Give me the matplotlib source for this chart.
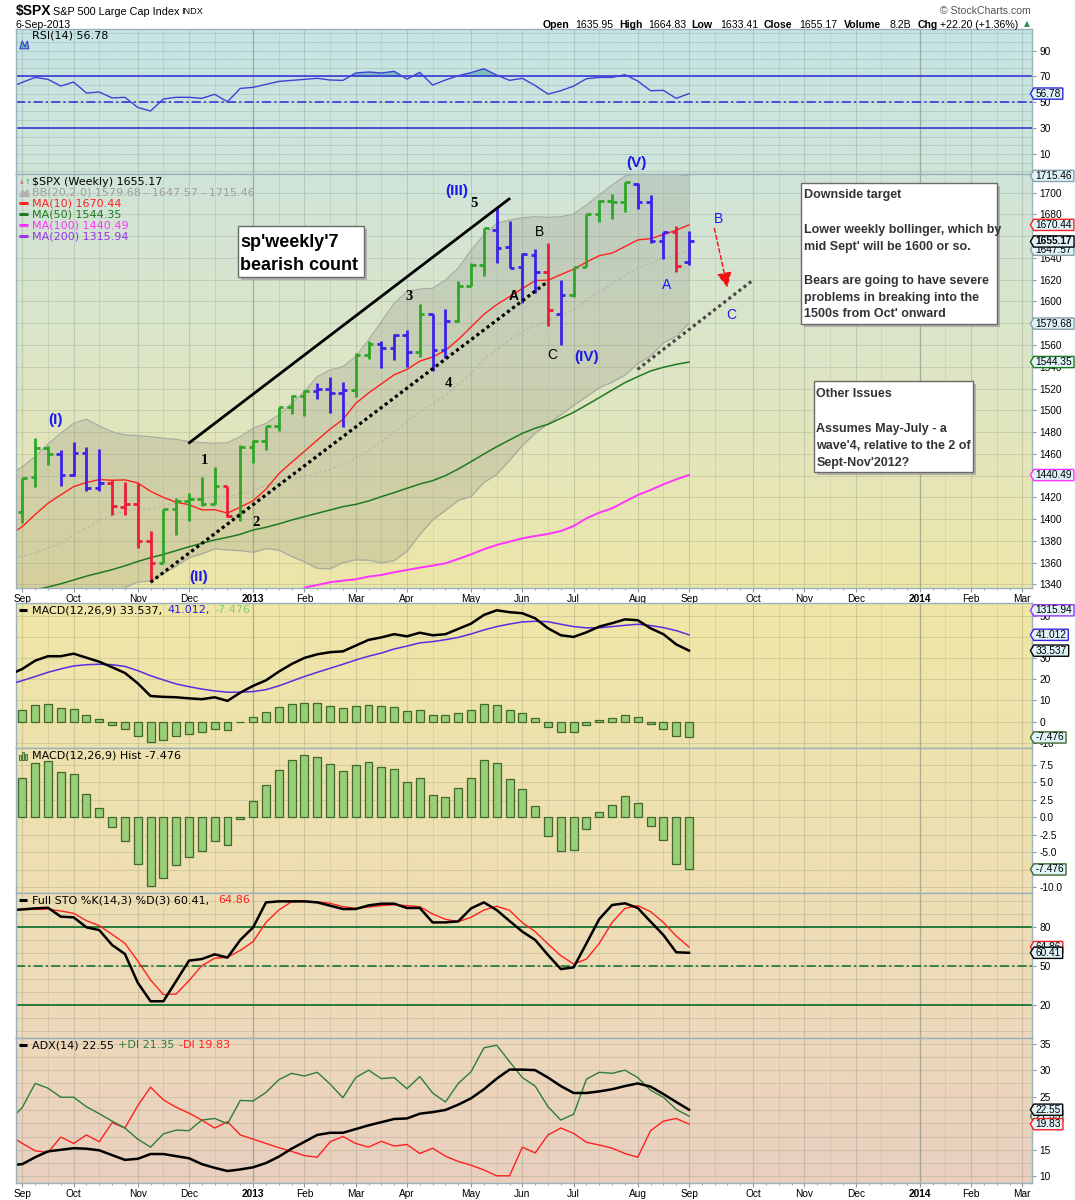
import numpy as np
import pandas as pd
import matplotlib
matplotlib.use("Agg")
import matplotlib.pyplot as plt
from matplotlib.patches import Rectangle, Polygon
from matplotlib.lines import Line2D
from matplotlib.path import Path
from matplotlib.transforms import blended_transform_factory

W, H = 1075, 1200
SANS = ["Liberation Sans", "DejaVu Sans"]
plt.rcParams["font.family"] = SANS

# ---------------------------------------------------------------- data
first_week = "2012-09-03"   # Monday of the first weekly bar
axis_end = "2014-03-03"

opens = [1406.54, 1438.44, 1465.42, 1459.76, 1440.90, 1460.93, 1428.75, 1433.21, 1410.99, 1414.02,
         1380.13, 1359.88, 1409.15, 1416.34, 1418.07, 1413.54, 1430.15, 1402.43, 1466.47, 1472.12,
         1485.98, 1502.96, 1513.17, 1517.93, 1519.79, 1515.60, 1518.20, 1551.18, 1560.70, 1556.89,
         1569.18, 1553.26, 1588.85, 1555.25, 1582.34, 1614.40, 1633.70, 1665.71, 1650.34, 1631.71,
         1642.80, 1626.97, 1588.77, 1606.28, 1631.89, 1680.26, 1692.09, 1691.65, 1708.01, 1691.70,
         1655.25, 1663.50, 1635.95]
highs = [1437.92, 1474.51, 1467.07, 1463.24, 1470.96, 1465.99, 1464.02, 1435.46, 1434.27, 1433.38,
         1388.81, 1409.16, 1419.70, 1423.73, 1438.59, 1448.00, 1430.15, 1467.94, 1472.75, 1485.98,
         1503.26, 1514.41, 1518.31, 1524.69, 1530.94, 1525.84, 1552.48, 1563.62, 1563.62, 1570.28,
         1573.66, 1597.35, 1588.85, 1592.64, 1618.46, 1635.01, 1667.47, 1687.18, 1674.21, 1644.40,
         1648.69, 1654.19, 1620.07, 1632.07, 1680.19, 1693.12, 1698.43, 1709.67, 1709.24, 1697.92,
         1664.03, 1669.51, 1664.83]
lows = [1396.56, 1429.13, 1449.98, 1430.53, 1439.40, 1425.53, 1425.61, 1403.28, 1403.93, 1373.03,
        1343.35, 1359.88, 1385.43, 1398.11, 1411.88, 1413.54, 1401.58, 1398.11, 1451.64, 1463.76,
        1481.16, 1496.33, 1495.02, 1510.00, 1497.29, 1485.01, 1512.29, 1547.36, 1538.57, 1546.22,
        1539.50, 1548.63, 1536.03, 1548.19, 1581.28, 1614.40, 1623.70, 1635.53, 1630.74, 1598.23,
        1608.07, 1577.70, 1560.33, 1604.57, 1631.89, 1673.30, 1676.03, 1681.86, 1684.91, 1654.19,
        1639.43, 1627.47, 1633.41]
closes = [1437.92, 1465.77, 1460.15, 1440.67, 1460.93, 1428.59, 1433.19, 1411.94, 1414.20, 1379.85,
          1359.88, 1409.15, 1416.18, 1418.07, 1413.58, 1430.15, 1402.43, 1466.47, 1472.05, 1485.98,
          1502.96, 1513.17, 1517.93, 1519.79, 1515.60, 1518.20, 1551.18, 1560.70, 1556.89, 1569.19,
          1553.28, 1588.85, 1555.25, 1582.24, 1614.42, 1633.70, 1667.47, 1649.60, 1630.74, 1643.38,
          1626.73, 1592.43, 1606.28, 1631.89, 1680.19, 1692.09, 1691.65, 1709.67, 1691.42, 1655.83,
          1663.50, 1632.97, 1655.17]
# impulse of each bar: u = up, d = down, n = neutral
impulse = ("uuunnnn" "dddd" "uuuuu" "d" "uuuuuu" "nnn" "uu" "nnn" "u" "nn" "uuu"
           "nnnn" "d" "n" "uuuuu" "nnn" "d" "n")

# indicator lines: the first value is the week before the first bar
ma10 = [1385.5, 1393.1, 1404.2, 1414.5, 1422.3, 1429.8, 1433.6, 1436.3, 1435.7, 1436.0, 1433.3,
        1425.5, 1419.9, 1415.5, 1413.2, 1408.5, 1408.6, 1405.5, 1411.0, 1416.8, 1427.4,
        1441.7, 1452.1, 1462.3, 1472.5, 1482.7, 1491.5, 1506.3, 1515.8, 1524.2, 1532.6,
        1537.6, 1545.2, 1548.9, 1555.1, 1565.0, 1576.6, 1588.2, 1597.1, 1604.5, 1611.9,
        1619.2, 1619.6, 1624.7, 1629.7, 1636.2, 1642.1, 1644.5, 1650.5, 1656.6, 1657.8,
        1661.5, 1665.5, 1670.44]
ma50 = [1330.0, 1332.5, 1335.0, 1337.5, 1340.5, 1344.0, 1347.5, 1350.5, 1353.5, 1357.0, 1361.0,
        1364.5, 1367.5, 1371.0, 1374.5, 1377.7, 1380.8, 1383.2, 1386.0, 1390.0, 1392.4,
        1395.5, 1399.1, 1402.2, 1405.3, 1408.3, 1411.4, 1413.5, 1416.6, 1420.6, 1424.3,
        1428.3, 1432.2, 1435.3, 1439.9, 1446.0, 1452.8, 1459.8, 1466.5, 1472.7, 1478.8,
        1483.5, 1487.1, 1492.6, 1498.1, 1504.8, 1511.6, 1518.6, 1525.4, 1530.9, 1536.1,
        1539.5, 1542.2, 1544.35]
ma100 = [np.nan] * 23 + [1337.0, 1339.4, 1341.9, 1343.4, 1344.6, 1347.1, 1348.6, 1351.1,
                         1353.2, 1355.3, 1357.2, 1359.3, 1363.3, 1367.6, 1372.2, 1376.2,
                         1379.2, 1382.3, 1384.4, 1386.3, 1389.0, 1393.6, 1400.7, 1405.9,
                         1409.9, 1416.0, 1422.1, 1426.7, 1431.9, 1436.5, 1440.49]
bb_upper = [1440.0, 1448.2, 1457.4, 1469.0, 1478.8, 1488.0, 1491.7, 1485.5, 1480.3, 1477.3, 1476.7,
            1475.7, 1474.2, 1473.3, 1471.2, 1470.2, 1469.6, 1470.2, 1475.7, 1483.4, 1488.0,
            1495.7, 1506.4, 1517.1, 1530.9, 1537.0, 1540.1, 1549.3, 1564.6, 1581.4, 1598.3,
            1609.0, 1611.5, 1612.1, 1619.7, 1630.5, 1647.3, 1661.1, 1671.8, 1674.9, 1677.0,
            1677.9, 1677.3, 1677.9, 1680.4, 1688.7, 1697.9, 1707.0, 1715.3, 1718.0, 1720.0,
            1719.0, 1717.0, 1715.46]
bb_mid = [1362.7, 1365.7, 1368.8, 1373.3, 1377.7, 1386.0, 1391.5, 1399.3, 1403.6, 1407.2, 1409.4,
          1409.3, 1412.0, 1415.0, 1417.8, 1419.1, 1421.1, 1420.9, 1423.3, 1426.4, 1430.4,
          1433.6, 1436.0, 1438.9, 1442.8, 1445.6, 1450.0, 1455.9, 1463.4, 1470.5, 1480.0,
          1489.7, 1498.6, 1505.6, 1513.8, 1523.8, 1534.0, 1547.3, 1556.4, 1564.4, 1572.2,
          1578.4, 1582.4, 1586.8, 1592.4, 1600.6, 1609.3, 1616.4, 1623.8, 1630.5, 1634.9,
          1640.4, 1642.6, 1647.57]
bb_lower = [1285.4, 1283.2, 1280.2, 1277.6, 1276.6, 1284.0, 1291.3, 1313.1, 1326.9, 1337.1, 1342.1,
            1342.9, 1349.8, 1356.7, 1364.4, 1368.0, 1372.6, 1371.6, 1370.9, 1369.4, 1372.8,
            1371.5, 1365.6, 1360.7, 1354.7, 1354.2, 1359.9, 1362.5, 1362.2, 1359.6, 1361.7,
            1370.4, 1385.7, 1399.1, 1407.9, 1417.1, 1420.7, 1433.5, 1441.0, 1453.9, 1467.4,
            1478.9, 1487.5, 1495.7, 1504.4, 1512.5, 1520.7, 1525.8, 1532.3, 1543.0, 1549.8,
            1561.8, 1568.2, 1579.68]
rsi = [61.5, 65.5, 69.3, 67.8, 62.6, 65.7, 57.2, 58.0, 53.4, 53.9, 46.1,
       43.3, 52.6, 53.9, 53.9, 53.1, 56.2, 50.5, 60.8, 61.6, 63.9,
       66.2, 67.0, 67.8, 68.6, 67.3, 67.0, 72.7, 73.5, 72.7, 74.0,
       68.0, 73.2, 63.4, 67.3, 70.6, 73.0, 76.0, 71.1, 67.0, 68.6,
       63.0, 56.4, 59.0, 62.6, 68.3, 69.3, 69.3, 71.4, 66.5, 59.0,
       59.3, 53.1, 56.78]
macd = [22.2, 24.9, 28.8, 30.9, 30.9, 32.1, 30.2, 28.3, 25.7, 23.0, 18.1,
        12.1, 11.7, 11.5, 11.0, 10.6, 11.5, 9.8, 13.7, 16.9, 19.5,
        23.6, 27.2, 30.1, 31.8, 32.8, 33.2, 35.9, 38.6, 39.8, 41.3,
        40.3, 42.0, 40.8, 41.3, 43.8, 46.3, 50.4, 52.6, 51.7, 51.2,
        48.8, 44.1, 40.8, 40.0, 42.2, 44.9, 46.5, 48.3, 47.9, 44.1,
        41.3, 36.5, 33.537]
macd_signal = [17.6, 19.4, 21.3, 23.3, 24.9, 26.3, 26.9, 27.1, 26.9, 26.1, 24.1,
               21.7, 19.7, 17.8, 16.5, 15.4, 14.5, 13.9, 13.9, 14.2, 15.1,
               16.9, 19.1, 21.3, 23.3, 25.2, 27.1, 29.1, 30.9, 32.4, 34.3,
               35.7, 37.2, 37.8, 38.7, 39.8, 41.4, 43.3, 44.9, 46.1, 47.1,
               47.4, 47.2, 46.0, 44.9, 44.3, 44.3, 44.9, 45.5, 46.0, 45.4,
               44.4, 43.0, 41.012]
sto_k = [93.1, 93.8, 94.6, 95.1, 88.2, 87.7, 80.0, 77.9, 66.4, 59.5, 37.4,
         23.1, 23.1, 38.7, 54.4, 55.6, 59.2, 56.7, 70.3, 80.0, 99.2,
         100.0, 100.0, 100.0, 99.2, 96.7, 94.1, 94.1, 96.9, 98.2, 98.2,
         94.9, 94.9, 83.8, 83.8, 84.6, 94.6, 99.2, 93.3, 84.9, 76.7,
         70.3, 58.7, 47.9, 49.2, 67.7, 86.4, 97.2, 98.5, 94.9, 84.4,
         74.1, 60.8, 60.41]
sto_d = [93.6, 93.8, 93.8, 94.1, 92.6, 90.8, 85.1, 81.3, 74.6, 67.7, 54.1,
         39.5, 28.2, 28.7, 39.0, 50.5, 56.2, 56.9, 62.3, 69.0, 83.8,
         93.3, 99.7, 100.0, 99.7, 98.5, 95.9, 94.6, 95.6, 96.7, 97.4,
         96.7, 95.9, 90.3, 86.2, 84.4, 87.7, 93.3, 96.2, 93.1, 83.6,
         76.7, 67.2, 58.2, 51.8, 55.6, 67.7, 83.8, 94.6, 96.7, 92.1,
         83.8, 73.3, 64.86]
adx = [12.1, 12.3, 13.6, 14.7, 15.0, 15.3, 15.2, 14.9, 14.0, 13.1, 13.3,
       14.2, 14.2, 13.8, 13.4, 12.3, 11.6, 11.0, 11.3, 11.7, 12.5,
       13.7, 15.2, 16.5, 17.8, 18.2, 18.2, 18.9, 19.6, 20.2, 20.8,
       20.9, 21.8, 22.1, 22.5, 23.5, 24.7, 26.4, 28.4, 30.1, 30.1,
       30.0, 28.6, 27.0, 25.7, 25.7, 26.0, 26.4, 27.0, 27.5, 26.9,
       25.5, 24.0, 22.55]
plus_di = [20.5, 23.0, 27.5, 26.6, 24.9, 24.9, 23.1, 21.8, 20.4, 19.1, 17.0,
           15.5, 18.0, 18.7, 18.6, 20.6, 20.9, 19.9, 24.3, 24.2, 25.8,
           28.2, 29.4, 28.9, 29.6, 27.4, 24.8, 28.6, 30.0, 28.4, 28.6,
           26.5, 28.8, 25.7, 24.0, 27.5, 29.7, 34.2, 34.7, 31.6, 28.6,
           27.0, 23.1, 20.6, 21.7, 28.3, 29.6, 29.4, 30.0, 28.6, 26.2,
           24.9, 22.6, 21.35]
minus_di = [17.7, 16.2, 14.8, 14.5, 17.4, 16.2, 17.8, 16.5, 20.1, 19.1, 23.3,
            26.8, 24.4, 23.0, 21.9, 20.6, 19.1, 20.3, 17.8, 17.0, 16.2,
            15.4, 14.7, 13.9, 13.6, 16.5, 17.5, 16.2, 15.5, 16.6, 15.7,
            16.0, 14.3, 15.3, 13.8, 12.8, 12.1, 11.2, 10.1, 10.1, 15.5,
            14.4, 17.8, 19.1, 18.1, 16.4, 15.9, 15.3, 14.3, 13.6, 18.6,
            20.4, 20.9, 19.83]
# histogram, one value per bar
macd_hist = [5.7, 7.75, 8.1, 6.5, 6.2, 3.3, 1.4, -1.4, -3.35, -6.75,
             -9.85, -8.65, -6.9, -5.65, -4.9, -3.35, -4.0, -0.3, 2.3, 4.6,
             6.75, 8.2, 8.9, 8.7, 7.6, 6.6, 7.45, 7.9, 7.2, 6.9,
             5.0, 5.6, 3.2, 2.9, 4.2, 5.7, 8.2, 7.75, 5.45, 4.0,
             1.6, -2.7, -4.9, -4.75, -1.7, 0.7, 1.7, 3.0, 2.0, -1.3,
             -3.3, -6.75, -7.476]
ma200_last = 1315.94

# hand drawn count on the price panel (week index, price)
trend_up = ([13.03, 37.96], [1470.2, 1694.2])
trend_low = ([10.0, 40.97], [1341.9, 1618.2])
trend_next = ([47.98, 56.99], [1537.6, 1619.7])
arrow_from, arrow_to = (53.98, 1667.2), (54.99, 1613.0)
wave_blue = [("(I)", 2.55, 1491.1), ("(II)", 13.78, 1346.4), ("(III)", 33.9, 1701.5),
             ("(IV)", 43.98, 1549.2), ("(V)", 47.9, 1727.0)]
wave_black = [("1", 14.2, 1453.4), ("2", 18.2, 1396.7), ("3", 30.2, 1605.0),
              ("4", 33.2, 1524.8), ("5", 35.24, 1690.2)]
abc_black = [("A", 38.3, 1605.0), ("B", 40.3, 1664.2), ("C", 41.3, 1550.8)]
abc_blue = [("A", 50.27, 1615.2), ("B", 54.27, 1675.5), ("C", 55.33, 1587.6)]

# ---------------------------------------------------------------- set up
x_bar = np.arange(len(closes))
x_line = np.arange(-1, len(closes))
assert len(impulse) == len(closes)
for series in (ma10, ma50, ma100, bb_upper, bb_mid, bb_lower, rsi, macd, macd_signal,
               sto_k, sto_d, adx, plus_di, minus_di):
    assert len(series) == len(x_line)

start = pd.Timestamp(first_week)
month_days = pd.date_range(first_week, axis_end, freq="WOM-1MON")
month_pos = np.asarray((month_days - start).days) / 7.0
month_lab = [d.strftime("%Y") if d.month == 1 else d.strftime("%b") for d in month_days]
year_pos = [p for p, d in zip(month_pos, month_days) if d.month == 1]
XLIM = (-0.48, 78.72)

fig = plt.figure(figsize=(W / 100, H / 100), dpi=100)
fig.patch.set_facecolor("white")
L_PX, R_PX = 16.2, 1031.6


def fx(px):
    return px / W


def fy(py):
    return 1 - py / H


bg_y = [29, 174, 380, 588, 604, 750, 893, 1038, 1183]
bg_rgb = np.array([(197, 228, 229), (207, 228, 217), (222, 230, 196), (237, 229, 168),
                   (240, 230, 166), (238, 226, 173), (238, 222, 179), (237, 216, 186),
                   (232, 207, 191)]) / 255.0


def panel(top, bottom, ylim, yticks, yminor, fmt="{:g}", xlabels=False, hidden=()):
    # hidden: tick values whose label sits under a value tag
    ax = fig.add_axes([fx(L_PX), fy(bottom), (R_PX - L_PX) / W, (bottom - top) / H])
    ys = np.linspace(top, bottom, 120)
    img = np.stack([np.interp(ys, bg_y, bg_rgb[:, k]) for k in range(3)], axis=-1)[:, None, :]
    ax.imshow(img, extent=(0, 1, 0, 1), transform=ax.transAxes, aspect="auto",
              zorder=-5, interpolation="bilinear")
    ax.set_xlim(*XLIM)
    ax.set_ylim(*ylim)
    ax.set_axisbelow(True)
    ax.yaxis.tick_right()
    ax.set_yticks(yticks)
    ax.set_yticklabels(["" if any(abs(v - h) < 1e-9 for h in hidden) else fmt.format(v)
                        for v in yticks])
    ax.set_yticks(yminor, minor=True)
    ax.tick_params(axis="y", which="major", length=3, pad=2.5, labelsize=7.3,
                   color="#8a9aa0", direction="out")
    ax.tick_params(axis="y", which="minor", length=0)
    ax.grid(axis="y", which="both", color="#6d8070", lw=0.7, alpha=0.22)
    for p in month_pos:
        ax.axvline(p, color="#6d8070", lw=0.8, alpha=0.25, zorder=0.5)
        ax.axvline(p + 2, color="#6d8070", lw=0.7, alpha=0.15, zorder=0.5)
    for p in year_pos:
        ax.axvline(p, color="#6d8070", lw=1.0, alpha=0.35, zorder=0.5)
    ax.set_xticks(month_pos)
    ax.set_xticks(np.arange(0, 79), minor=True)
    if xlabels:
        ax.set_xticklabels(month_lab)
        ax.tick_params(axis="x", which="major", length=3, pad=1.5, labelsize=7.3,
                       color="#8a9aa0")
        ax.tick_params(axis="x", which="minor", length=1.5, color="#8a9aa0")
        for t, d in zip(ax.get_xticklabels(), month_days):
            if d.month == 1:
                t.set_fontweight("bold")
    else:
        ax.set_xticklabels([])
        ax.tick_params(axis="x", which="both", length=0)
    for s in ax.spines.values():
        s.set_color("#9bb2bc")
        s.set_linewidth(1.0)
    return ax


def tag_shape(x0, y0, width, height, mutation_size):
    padx, pady = 0.18 * mutation_size, 0.06 * mutation_size
    x0, y0 = x0 - padx, y0 - pady
    width, height = width + 2 * padx, height + 2 * pady
    tip = 0.3 * height
    return Path([(x0, y0), (x0 + width, y0), (x0 + width, y0 + height),
                 (x0, y0 + height), (x0 - tip, y0 + height / 2), (x0, y0)], closed=True)


def tag(ax, value, text, edge, bold=False):
    tr = blended_transform_factory(ax.transAxes, ax.transData)
    ax.text(1 + 4.0 / (R_PX - L_PX), value, text, transform=tr, ha="left", va="center",
            fontsize=7.3, fontweight="bold" if bold else "normal", color="black",
            zorder=30, clip_on=False,
            bbox=dict(boxstyle=tag_shape, fc="#dff3f8", ec=edge, lw=1.0))


def legend_dash(x0, x1, y, color, lw=2.2):
    fig.add_artist(Line2D([fx(x0), fx(x1)], [fy(y), fy(y)], color=color, lw=lw,
                          transform=fig.transFigure, solid_capstyle="butt"))


def ftext(x, y, s, **kw):
    kw.setdefault("va", "center")
    kw.setdefault("ha", "left")
    return fig.text(fx(x), fy(y), s, **kw)


# ---------------------------------------------------------------- header
ftext(16, 15, "$SPX", fontsize=10, fontweight="bold", va="baseline")
ftext(53, 15, "S&P 500 Large Cap Index", fontsize=7.8, va="baseline")
ftext(181, 14.5, "INDX", fontsize=6.6, va="baseline")
ftext(16, 27.5, "6-Sep-2013", fontsize=7.6, va="baseline")
ftext(1031, 14, "\u00a9 StockCharts.com", fontsize=7.6, color="#555555", ha="right",
      va="baseline")
header = [("Open", 542.6, "bold"), ("1635.95", 575.6, "normal"), ("High", 619.4, "bold"),
          ("1664.83", 648.0, "normal"), ("Low", 691.7, "bold"), ("1633.41", 720.0, "normal"),
          ("Close", 764.0, "bold"), ("1655.17", 799.5, "normal"), ("Volume", 844.2, "bold"),
          ("8.2B", 889.7, "normal"), ("Chg", 918.0, "bold"),
          ("+22.20 (+1.36%)", 939.6, "normal")]
for s, xp, wt in header:
    ftext(xp, 27.5, s, fontsize=7.6, fontweight=wt, va="baseline")
ftext(1024, 26.5, "\u25b2", fontsize=5.5, color="#2e8b57", va="baseline",
      family=["DejaVu Sans"])

# ---------------------------------------------------------------- RSI
ax_rsi = panel(29.3, 174, (-5.4, 106.5), [10, 30, 50, 70, 90],
               np.arange(-10 / 3, 106, 20 / 3))
rsi_a = np.array(rsi)
ax_rsi.fill_between(x_line, rsi_a, 70, where=rsi_a >= 70, interpolate=True,
                    color="#6fb5b5", alpha=0.85, lw=0)
ax_rsi.axhline(70, color="#2b2bd9", lw=1.1)
ax_rsi.axhline(30, color="#2b2bd9", lw=1.1)
ax_rsi.axhline(50, color="#2b2bd9", lw=1.1, ls=(0, (6, 2, 1.5, 2)))
ax_rsi.plot(x_line, rsi_a, color="#4040d8", lw=1.0)
tag(ax_rsi, rsi[-1], "56.78", "#2b2bd9")
ax_rsi.add_patch(Polygon([(0.0035, 0.865), (0.006, 0.92), (0.0085, 0.88), (0.011, 0.92),
                          (0.0125, 0.865)], closed=True, transform=ax_rsi.transAxes,
                         fc="#5fb0b0", ec="#3333cc", lw=0.7))
ftext(31.7, 36, "RSI(14) 56.78", fontsize=8, family=["DejaVu Sans"])

# ---------------------------------------------------------------- price
ax_p = panel(174, 587.7, (1336.9, 1717.2), np.arange(1340, 1701, 20), [], xlabels=True,
             hidden=(1660, 1580, 1440))
ax_p.fill_between(x_line, bb_lower, bb_upper, color="#7a7a6e", alpha=0.2, lw=0)
ax_p.plot(x_line, bb_upper, color="#a8aca0", lw=0.9)
ax_p.plot(x_line, bb_lower, color="#a8aca0", lw=0.9)
ax_p.plot(x_line, bb_mid, color="#b4b8ac", lw=0.9, ls=(0, (2, 2)))
ax_p.plot(x_line, ma100, color="#ff33ff", lw=1.4)
ax_p.plot(x_line, ma50, color="#1e7a1e", lw=1.1)
ax_p.plot(x_line, ma10, color="#ff2020", lw=1.0)

bar_col = [{"u": "#2fa62a", "d": "#ee1c3a", "n": "#3b22e8"}[c] for c in impulse]
ax_p.vlines(x_bar, lows, highs, colors=bar_col, lw=2.0, zorder=4)
ax_p.hlines(opens, x_bar - 0.36, x_bar, colors=bar_col, lw=2.0, zorder=4)
ax_p.hlines(closes, x_bar, x_bar + 0.36, colors=bar_col, lw=2.0, zorder=4)

ax_p.plot(*trend_up, color="black", lw=2.0, zorder=5)
ax_p.plot(*trend_low, color="black", lw=2.3, ls=(0, (1, 1)), zorder=5)
ax_p.plot(*trend_next, color="#4a4a4a", lw=2.3, ls=(0, (1, 1)), zorder=5)
ax_p.annotate("", xy=arrow_to, xytext=arrow_from, zorder=6,
              arrowprops=dict(arrowstyle="-|>,head_length=0.9,head_width=0.45",
                              color="#ee1111", lw=1.0, ls=(0, (3, 2)),
                              shrinkA=0, shrinkB=0))
for s, xv, yv in wave_blue:
    ax_p.text(xv, yv, s, color="#1a1aee", fontsize=11, fontweight="bold",
              ha="center", va="center", zorder=7)
for s, xv, yv in wave_black:
    ax_p.text(xv, yv, s, color="black", fontsize=10.5, fontweight="bold",
              family=["Liberation Serif", "DejaVu Serif"], ha="center", va="center", zorder=7)
for s, xv, yv in abc_black:
    ax_p.text(xv, yv, s, color="black", fontsize=10, ha="center", va="center", zorder=7,
              fontweight="bold" if s == "A" else "normal")
for s, xv, yv in abc_blue:
    ax_p.text(xv, yv, s, color="#1a1aee", fontsize=10, ha="center", va="center", zorder=7)

tag(ax_p, bb_lower[-1], "1579.68", "#8aa0a8")
tag(ax_p, ma50[-1], "1544.35", "#1e7a1e")
tag(ax_p, ma100[-1], "1440.49", "#ff33ff")
tag(ax_p, bb_upper[-1], "1715.46", "#8aa0a8")
tag(ax_p, bb_mid[-1], "1647.57", "#8aa0a8")
tag(ax_p, ma10[-1], "1670.44", "#ff2020")
tag(ax_p, closes[-1], "1655.17", "black", bold=True)
fig.text(fx(1031.6 + 4.0), fy(610.3), "1315.94", ha="left", va="center", fontsize=7.3,
         zorder=40, bbox=dict(boxstyle=tag_shape, fc="#dff3f8", ec="#9933ee", lw=1.0))

# legend of the price panel
ftext(18.3, 181.7, "\u2193", fontsize=5, color="#ee1c3a", family=["DejaVu Sans"])
ftext(24.6, 181.7, "\u2191", fontsize=5, color="#2fa62a", family=["DejaVu Sans"])
ftext(31.7, 181.7, "$SPX (Weekly) 1655.17", fontsize=8, family=["DejaVu Sans"])
fig.add_artist(Polygon([(fx(19), fy(197)), (fx(22), fy(189.5)), (fx(25), fy(192)),
                        (fx(28), fy(188.5)), (fx(30), fy(197))], closed=True,
                       transform=fig.transFigure, fc="#b0b0b0", ec="none"))
ftext(31.7, 192.7, "BB(20,2.0) 1579.68 - 1647.57 - 1715.46", fontsize=8, color="#a0a0a0",
      family=["DejaVu Sans"])
ma_legend = [("MA(10) 1670.44", "#ff2020", 203.3), ("MA(50) 1544.35", "#1e7a1e", 214.3),
             ("MA(100) 1440.49", "#ff33ff", 225.3), ("MA(200) 1315.94", "#9933ee", 236.3)]
for s, c, yp in ma_legend:
    legend_dash(19, 28, yp, c)
    ftext(31.7, yp, s, fontsize=8, color=c, family=["DejaVu Sans"])


# note boxes
def note_box(x0, y0, x1, y1, lines, size, family, weight, color):
    fig.add_artist(Rectangle((fx(x0 + 3), fy(y1 + 3)), (x1 - x0) / W, (y1 - y0) / H,
                             transform=fig.transFigure, fc="#a0a0a0", ec="none",
                             alpha=0.75, zorder=20))
    fig.add_artist(Rectangle((fx(x0), fy(y1)), (x1 - x0) / W, (y1 - y0) / H,
                             transform=fig.transFigure, fc="white", ec="#6a6a6a",
                             lw=1.0, zorder=21))
    for s, xp, yp in lines:
        ftext(xp, yp, s, fontsize=size, family=family, fontweight=weight, color=color,
              va="baseline", zorder=22)


note_box(237.7, 225.7, 364.3, 277.3,
         [("sp'weekly'7", 240.5, 247.3), ("bearish count", 240.5, 270.0)],
         13, SANS, "bold", "black")
NARROW = ["Liberation Sans Narrow", "Liberation Sans"]
note_box(801.4, 182.7, 996.9, 324.0,
         [("Downside target", 803.6, 198.3),
          ("Lower weekly bollinger, which by", 803.6, 232.7),
          ("mid Sept' will be 1600 or so.", 803.6, 249.7),
          ("Bears are going to have severe", 803.6, 283.7),
          ("problems in breaking into the", 803.6, 300.7),
          ("1500s from Oct' onward", 803.6, 317.3)],
         9, NARROW, "bold", "#333333")
note_box(814.3, 381.3, 973.0, 472.3,
         [("Other Issues", 816.3, 397.3),
          ("Assumes May-July - a", 816.3, 431.7),
          ("wave'4, relative to the 2 of", 816.3, 449.0),
          ("Sept-Nov'2012?", 816.3, 465.7)],
         9, NARROW, "bold", "#333333")

# ---------------------------------------------------------------- MACD
ax_m = panel(603.3, 748.3, (-12.6, 55.9), np.arange(-10, 51, 10), [], hidden=(40,))
ax_m.bar(x_bar, macd_hist, width=0.62, color="#9acd78", edgecolor="#3f6a2c", lw=0.9,
         zorder=3)
ax_m.plot(x_line, macd_signal, color="#5a2ee0", lw=1.1, zorder=4)
ax_m.plot(x_line, macd, color="black", lw=1.8, zorder=5)
tag(ax_m, macd_signal[-1], "41.012", "#3a22e0")
tag(ax_m, macd[-1], "33.537", "black")
tag(ax_m, macd_hist[-1], "-7.476", "#3f6a2c")
legend_dash(19, 27, 610.3, "black")
ftext(31.7, 610.3, "MACD(12,26,9) 33.537,", fontsize=8, family=["DejaVu Sans"])
ftext(167.7, 610.3, "41.012,", fontsize=8, color="#2a1ee6", family=["DejaVu Sans"])
ftext(214.2, 610.3, "-7.476", fontsize=8, color="#88cc77", family=["DejaVu Sans"])

# ---------------------------------------------------------------- histogram
ax_h = panel(748.3, 893.3, (-10.9, 9.9), np.arange(-10, 7.6, 2.5), [], fmt="{:.1f}",
             hidden=(-7.5,))
ax_h.bar(x_bar, macd_hist, width=0.62, color="#9acd78", edgecolor="#3f6a2c", lw=0.9,
         zorder=3)
tag(ax_h, macd_hist[-1], "-7.476", "#3f6a2c")
for i, hgt in enumerate([5, 8, 6]):
    fig.add_artist(Rectangle((fx(19 + i * 3), fy(760)), 2 / W, hgt / H,
                             transform=fig.transFigure, fc="#9acd78", ec="#3f6a2c", lw=0.6))
ftext(31.7, 755.7, "MACD(12,26,9) Hist -7.476", fontsize=8, family=["DejaVu Sans"])

# ---------------------------------------------------------------- stochastics
ax_s = panel(893.3, 1038.3, (-5.4, 106.2), [20, 50, 80], np.arange(0, 101, 10))
ax_s.axhline(80, color="#0b6b2b", lw=1.2)
ax_s.axhline(20, color="#0b6b2b", lw=1.2)
ax_s.axhline(50, color="#0b6b2b", lw=1.1, ls=(0, (6, 2, 1.5, 2)))
ax_s.plot(x_line, sto_d, color="#ff2020", lw=1.0)
ax_s.plot(x_line, sto_k, color="black", lw=1.8)
tag(ax_s, sto_d[-1], "64.86", "#ff2020")
tag(ax_s, sto_k[-1], "60.41", "black")
legend_dash(19, 27, 900.3, "black")
ftext(31.7, 900.3, "Full STO %K(14,3) %D(3) 60.41,", fontsize=8, family=["DejaVu Sans"])
ftext(218.7, 900.3, "64.86", fontsize=8, color="#ff2020", family=["DejaVu Sans"])

# ---------------------------------------------------------------- ADX
ax_a = panel(1038.3, 1182.7, (8.8, 36.0), np.arange(10, 36, 5), np.arange(10, 36, 2.5),
             xlabels=True, hidden=(20,))
ax_a.plot(x_line, minus_di, color="#ff2020", lw=1.0)
ax_a.plot(x_line, plus_di, color="#2e7d3a", lw=1.0)
ax_a.plot(x_line, adx, color="black", lw=1.8)
tag(ax_a, plus_di[-1], "21.35", "#2e7d3a")
tag(ax_a, adx[-1], "22.55", "black")
tag(ax_a, minus_di[-1], "19.83", "#ff2020")
legend_dash(19, 27, 1045.3, "black")
ftext(31.7, 1045.3, "ADX(14) 22.55", fontsize=8, family=["DejaVu Sans"])
ftext(118.1, 1045.3, "+DI 21.35", fontsize=8, color="#2e7d3a", family=["DejaVu Sans"])
ftext(178.7, 1045.3, "-DI 19.83", fontsize=8, color="#ff2020", family=["DejaVu Sans"])

fig.savefig("out.png", dpi=100, facecolor="white")
